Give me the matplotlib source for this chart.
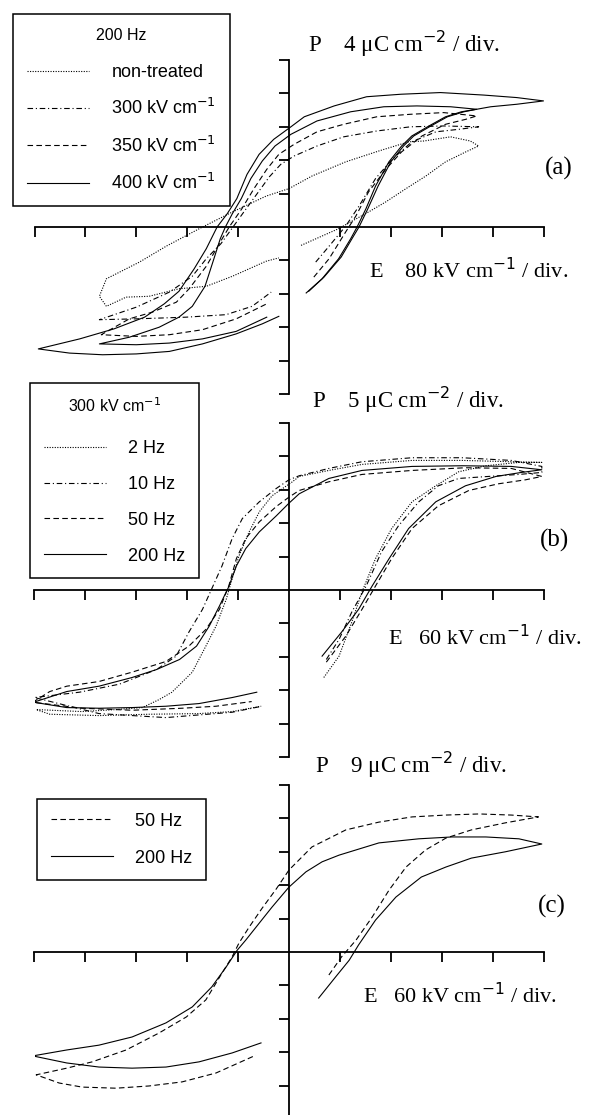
import matplotlib
matplotlib.use("Agg")
import matplotlib.pyplot as plt
from matplotlib.font_manager import FontProperties

# ---- data (E in kV/cm, P in uC/cm2), each trace is one open sweep ----
# panel (a): 200 Hz, different poling fields
A_NT_E = [19, 78, 99, 125, 152, 184, 215, 246, 278, 298,
          285, 254, 212, 188, 141, 89, 36, 0, -36, -89, -141, -193, -235, -287, -298, -287,
          -256, -220, -173, -130, -89, -36, -16]
A_NT_P = [-2.2, -0.2, 0.7, 1.8, 3.0, 4.6, 6.1, 7.8, 9.0, 9.7,
          10.3, 10.8, 10.3, 10.2, 9.1, 7.8, 6.1, 4.6, 3.7, 1.8, -0.2, -2.3, -4.2, -6.2, -8.3, -9.5,
          -8.4, -8.3, -7.4, -7.1, -5.9, -4.1, -3.7]

A_300_E = [42, 63, 89, 110, 136, 162, 193, 231, 267, 298,
           243, 191, 138, 86, 44, 8, -13, -31, -50, -71, -88, -107, -130, -152, -188, -240, -298,
           -240, -162, -99, -58, -28]
A_300_P = [-4.2, -2.3, 0.1, 2.5, 5.8, 8.1, 10.2, 11.4, 11.7, 12.0,
           12.1, 12.0, 11.5, 10.8, 9.7, 8.5, 7.5, 6.0, 4.0, 1.8, 0.0, -2.0, -3.8, -5.9, -7.8, -9.6, -11.1,
           -11.0, -10.8, -10.5, -9.5, -7.8]

A_350_E = [39, 63, 89, 105, 125, 152, 177, 209, 246, 278, 295,
           243, 191, 138, 86, 44, 8, -16, -35, -55, -74, -94, -105, -130, -157, -177, -215, -251, -295,
           -240, -188, -136, -83, -35]
A_350_P = [-6.0, -3.8, -0.6, 1.3, 4.2, 6.9, 9.0, 10.9, 12.3, 12.9, 13.3,
           13.7, 13.5, 13.2, 12.3, 11.4, 9.9, 8.7, 6.9, 4.6, 2.2, 0.0, -1.4, -4.7, -7.4, -9.0, -10.2, -11.0, -12.9,
           -13.1, -12.9, -12.3, -11.0, -9.2]

A_400_E = [27, 52, 78, 97, 107, 121, 136, 157, 177, 193, 220, 246, 271, 295, 317, 358, 400,
           358, 306, 238, 176, 122, 71, 24, 3, -24, -47, -66, -82, -97, -113, -130, -149, -173, -196, -227,
           -275, -329, -394,
           -345, -293, -240, -188, -136, -83, -42, -16]
A_400_P = [-7.9, -6.2, -3.8, -1.4, 0.0, 2.2, 4.9, 7.8, 9.7, 10.9, 12.1, 13.2, 13.8, 14.1, 14.4, 14.7, 15.1,
           15.5, 15.8, 16.1, 15.9, 15.6, 14.5, 13.2, 12.0, 10.5, 8.7, 6.3, 3.4, 1.6, 0.0, -2.6, -5.0, -7.7, -9.2,
           -10.8, -12.2, -13.4, -14.6,
           -15.1, -15.3, -15.2, -14.9, -14.0, -12.8, -11.6, -10.7]

# second (inner) 400 kV/cm sweep
A_400B_E = [31, 55, 82, 99, 110, 124, 140, 160, 180, 196, 223, 249, 275, 295,
            254, 201, 149, 97, 44, 3, -22, -42, -60, -75, -89, -100, -108, -118, -132, -152, -173, -204, -251, -298,
            -240, -188, -136, -83, -35]
A_400B_P = [-7.7, -6.0, -3.6, -1.4, 0.0, 2.2, 4.9, 7.8, 9.7, 10.9, 12.1, 13.2, 13.8, 14.1,
            14.4, 14.5, 14.4, 13.8, 12.7, 11.1, 9.7, 7.9, 5.8, 3.4, 1.6, 0.0, -1.4, -3.8, -7.1, -9.5, -10.8, -12.0,
            -13.2, -14.0,
            -14.1, -13.9, -13.4, -12.5, -10.8]

# panel (b): 300 kV/cm, different frequencies
B_2_E = [41, 59, 74, 86, 102, 121, 145, 173, 200, 232, 271, 298,
         262, 204, 145, 86, 47, 12, 4, -20, -35, -47, -59, -67, -74, -86, -98, -114, -138, -153, -173, -204,
         -244, -298,
         -282, -224, -165, -106, -67, -33]
B_2_P = [-13.1, -9.9, -4.8, -0.3, 4.7, 9.2, 13.2, 15.6, 17.7, 18.6, 19.1, 19.1,
         19.2, 19.4, 19.4, 18.8, 17.9, 17.0, 16.2, 14.1, 11.7, 8.7, 5.1, 1.7, -1.4, -5.4, -8.4, -12.3, -15.3,
         -16.4, -17.6, -17.9, -18.2, -17.9,
         -18.6, -18.8, -18.6, -18.5, -18.2, -17.4]

B_10_E = [44, 59, 74, 91, 109, 129, 153, 176, 200, 235, 271, 298,
          298, 262, 204, 145, 86, 47, 12, 0, -15, -35, -55, -67, -79, -91, -102, -118, -133, -156, -200, -247, -300,
          -224, -145, -67, -32]
B_10_P = [-10.4, -7.4, -3.3, 0.6, 5.7, 9.6, 13.2, 15.6, 16.7, 17.0, 17.3, 17.6,
          18.5, 19.4, 19.8, 19.8, 19.2, 18.2, 17.1, 16.5, 15.2, 13.2, 10.7, 7.7, 3.6, 0.2, -2.9, -6.3, -9.9,
          -11.9, -14.1, -15.3, -16.1,
          -18.5, -19.1, -18.3, -17.4]

B_50_E = [44, 67, 86, 102, 121, 145, 176, 212, 247, 279, 298,
          262, 208, 145, 86, 47, 12, 0, -15, -35, -51, -62, -71, -82, -98, -118, -145, -185, -224, -262, -282, -302,
          -244, -185, -126, -86, -44]
B_50_P = [-10.8, -6.9, -2.9, 0.6, 4.7, 9.2, 12.6, 14.9, 15.9, 16.5, 17.0,
          18.2, 18.3, 17.9, 17.3, 16.2, 14.9, 13.9, 12.5, 10.2, 7.7, 4.7, 0.6, -2.9, -5.9, -8.4, -10.7, -12.3,
          -13.7, -14.4, -15.2, -16.8,
          -17.7, -18.0, -17.7, -17.4, -16.7]

B_200_E = [39, 62, 82, 98, 118, 141, 173, 208, 244, 274, 298,
           262, 204, 145, 86, 47, 12, 0, -15, -35, -51, -62, -71, -82, -94, -109, -129, -156, -185, -224, -262, -301,
           -262, -224, -185, -145, -106, -67, -38]
B_200_P = [-9.9, -6.3, -2.9, 0.6, 4.7, 9.2, 13.2, 15.6, 17.0, 17.6, 18.0,
           18.5, 18.6, 18.5, 17.9, 16.7, 14.4, 13.0, 11.1, 8.7, 6.2, 3.6, 0.5, -2.4, -5.4, -8.4, -10.4, -11.9,
           -13.1, -14.4, -15.2, -16.8,
           -17.6, -17.7, -17.6, -17.4, -17.0, -16.1, -15.3]

# panel (c)
C_50_E = [47, 62, 79, 98, 118, 138, 161, 185, 215, 255, 294,
          262, 224, 185, 145, 106, 67, 27, 0, -15, -32, -47, -59, -67, -79, -98, -121, -153, -192, -232, -262, -298,
          -271, -244, -204, -165, -126, -86, -39]
C_50_P = [-6.2, -1.3, 3.2, 9.4, 16.7, 22.9, 27.5, 30.7, 32.9, 34.8, 36.4,
          36.9, 37.2, 36.9, 36.4, 35.0, 32.9, 28.3, 22.1, 17.0, 11.7, 6.7, 2.4, -1.3, -5.7, -12.9, -17.5, -21.8,
          -26.4, -29.6, -31.3, -33.1,
          -35.3, -36.4, -36.7, -36.1, -35.0, -32.6, -27.8]

C_200_E = [35, 55, 71, 82, 102, 126, 156, 185, 215, 255, 298,
           271, 232, 192, 153, 106, 59, 39, 20, 0, -20, -35, -51, -61, -74, -91, -114, -145, -185, -224, -262, -302,
           -262, -224, -185, -145, -106, -67, -33]
C_200_P = [-12.4, -6.7, -2.2, 1.9, 8.6, 14.8, 20.2, 22.9, 25.3, 27.0, 29.1,
           30.5, 31.0, 31.0, 30.5, 29.4, 26.1, 24.3, 21.6, 17.5, 12.1, 7.8, 3.2, 0.5, -4.0, -9.4, -14.8, -19.1,
           -22.9, -25.1, -26.4, -28.0,
           -29.9, -31.0, -31.3, -31.0, -29.6, -27.2, -24.5]

# scale per division: (E kV/cm, P uC/cm2)
DIV_A = (80, 4)
DIV_B = (60, 5)
DIV_C = (60, 9)

DOT = (0, (1, 1.3))
DASHDOT = (0, (5, 2.5, 1, 2.5))
DASH = (0, (5, 3))
LW = 0.8

W, H = 596, 1115
fig = plt.figure(figsize=(W / 100, H / 100), dpi=100)


def rect(l, t, r, b):
    return [l / W, 1 - b / H, (r - l) / W, (b - t) / H]


def fx(px):
    return px / W


def fy(py):
    return 1 - py / H


def setup(ax, div):
    e, p = div
    ax.set_xlim(-5 * e, 5 * e)
    ax.set_ylim(-5 * p, 5 * p)
    ax.patch.set_visible(False)
    for s in ("top", "right"):
        ax.spines[s].set_visible(False)
    for s in ("left", "bottom"):
        ax.spines[s].set_position("zero")
        ax.spines[s].set_linewidth(1.3)
    ax.set_xticks([k * e for k in range(-5, 6) if k])
    ax.set_yticks([k * p for k in range(-5, 6) if k])
    ax.tick_params(direction="out", length=7.5, width=1.3,
                   labelbottom=False, labelleft=False)


sans = dict(family="Liberation Sans", size=13, math_fontfamily="dejavusans")
serif = dict(family="Liberation Serif", size=16.5, math_fontfamily="dejavusans")
serif_e = dict(family="Liberation Serif", size=16, math_fontfamily="dejavusans")


def make_legend(ax, x, y, spacing, title=None, title_gap=None):
    leg = ax.legend(loc="upper left", bbox_to_anchor=(fx(x), fy(y)),
                    bbox_transform=fig.transFigure, prop=FontProperties(**sans),
                    title=title,
                    title_fontproperties=FontProperties(family="Liberation Sans", size=11.5,
                                                        math_fontfamily="dejavusans"),
                    frameon=True, fancybox=False, edgecolor="black", framealpha=1,
                    handlelength=3.45, handletextpad=1.25, borderpad=0.75,
                    labelspacing=spacing, borderaxespad=0)
    leg.get_frame().set_linewidth(1.1)
    if title_gap is not None:
        # gap between title and first entry, in points
        leg._legend_box.sep = title_gap
    return leg


# ---- (a) ----
ax_a = fig.add_axes(rect(34.5, 60, 543.5, 394))
setup(ax_a, DIV_A)
ax_a.plot(A_NT_E, A_NT_P, color="k", lw=LW, ls=DOT, label="non-treated")
ax_a.plot(A_300_E, A_300_P, color="k", lw=LW, ls=DASHDOT, label="300 kV cm$^{-1}$")
ax_a.plot(A_350_E, A_350_P, color="k", lw=LW, ls=DASH, label="350 kV cm$^{-1}$")
ax_a.plot(A_400_E, A_400_P, color="k", lw=LW, ls="-", label="400 kV cm$^{-1}$")
ax_a.plot(A_400B_E, A_400B_P, color="k", lw=LW, ls="-")
make_legend(ax_a, 13, 14, 0.95, title="200 Hz", title_gap=15.5)

# ---- (b) ----
ax_b = fig.add_axes(rect(34.5, 423, 543.5, 757))
setup(ax_b, DIV_B)
ax_b.plot(B_2_E, B_2_P, color="k", lw=LW, ls=DOT, label="2 Hz")
ax_b.plot(B_10_E, B_10_P, color="k", lw=LW, ls=DASHDOT, label="10 Hz")
ax_b.plot(B_50_E, B_50_P, color="k", lw=LW, ls=DASH, label="50 Hz")
ax_b.plot(B_200_E, B_200_P, color="k", lw=LW, ls="-", label="200 Hz")
make_legend(ax_b, 30, 383, 1.04, title="300 kV cm$^{-1}$", title_gap=18)

# ---- (c) ----
ax_c = fig.add_axes(rect(34.5, 785, 543.5, 1119))
setup(ax_c, DIV_C)
ax_c.plot(C_50_E, C_50_P, color="k", lw=LW, ls=DASH, label="50 Hz")
ax_c.plot(C_200_E, C_200_P, color="k", lw=LW, ls="-", label="200 Hz")
make_legend(ax_c, 37, 799, 1.12)

# axis captions and panel letters
fig.text(fx(308), fy(52), "P    4 \u03bcC cm$^{-2}$ / div.", va="baseline", **serif)
fig.text(fx(369), fy(278), "E    80 kV cm$^{-1}$ / div.", va="baseline", **serif_e)
fig.text(fx(545), fy(168), "(a)", va="center", family="Liberation Serif", size=18)

fig.text(fx(312), fy(408), "P    5 \u03bcC cm$^{-2}$ / div.", va="baseline", **serif)
fig.text(fx(388), fy(645), "E   60 kV cm$^{-1}$ / div.", va="baseline", **serif_e)
fig.text(fx(540), fy(540), "(b)", va="center", family="Liberation Serif", size=18)

fig.text(fx(315), fy(773), "P    9 \u03bcC cm$^{-2}$ / div.", va="baseline", **serif)
fig.text(fx(363), fy(1003), "E   60 kV cm$^{-1}$ / div.", va="baseline", **serif_e)
fig.text(fx(538), fy(906), "(c)", va="center", family="Liberation Serif", size=18)

fig.savefig("out.png", dpi=100, facecolor="white")
